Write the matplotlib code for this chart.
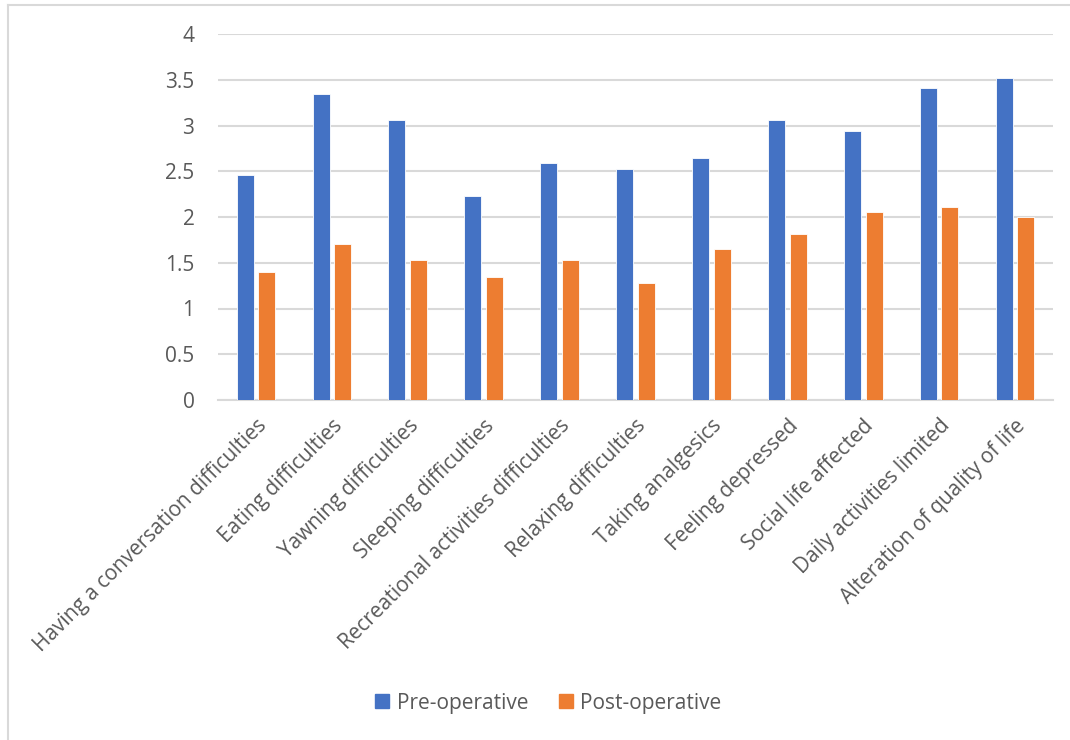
import numpy as np
import matplotlib
matplotlib.use("Agg")
import matplotlib.pyplot as plt
from matplotlib.lines import Line2D

plt.rcParams['font.family'] = ['Open Sans', 'DejaVu Sans']

# Mean scores before / after surgery
categories = [
    "Having a conversation difficulties",
    "Eating difficulties",
    "Yawning difficulties",
    "Sleeping difficulties",
    "Recreational activities difficulties",
    "Relaxing difficulties",
    "Taking analgesics",
    "Feeling depressed",
    "Social life affected",
    "Daily activities limited",
    "Alteration of quality of life",
]
pre_operative = [2.46, 3.34, 3.06, 2.23, 2.59, 2.52, 2.64, 3.06, 2.94, 3.41, 3.52]
post_operative = [1.40, 1.70, 1.53, 1.34, 1.53, 1.28, 1.65, 1.81, 2.05, 2.11, 2.00]
y_ticks = [0, 0.5, 1, 1.5, 2, 2.5, 3, 3.5, 4]

blue = "#4472C4"
orange = "#ED7D31"
grey_text = "#595959"
grid_col = "#D9D9D9"

fig = plt.figure(figsize=(10.7, 7.4), dpi=100)
ax = fig.add_axes([218 / 1070, 1 - 400 / 740, (1053 - 218) / 1070, (400 - 34) / 740])

x = np.arange(len(categories))
bar_w = 0.224
offset = 0.143
ax.bar(x - offset, pre_operative, width=bar_w, color=blue, edgecolor="white", linewidth=0.6,
       label="Pre-operative", zorder=3)
ax.bar(x + offset, post_operative, width=bar_w, color=orange, edgecolor="white", linewidth=0.6,
       label="Post-operative", zorder=3)

ax.set_xlim(-0.5, len(categories) - 0.5)
ax.set_ylim(0, 4)
ax.set_yticks(y_ticks)
ax.set_yticklabels([f"{t:g}" for t in y_ticks])
ax.set_xticks(x)
ax.set_xticklabels(categories, rotation=45, ha="right", rotation_mode="anchor")

ax.grid(axis="y", color=grid_col, linewidth=1.5, zorder=0)
ax.set_axisbelow(True)
for side in ["top", "right", "left"]:
    ax.spines[side].set_visible(False)
ax.spines["bottom"].set_color(grid_col)
ax.spines["bottom"].set_linewidth(1.5)
ax.tick_params(axis="both", length=0, labelcolor=grey_text)
ax.tick_params(axis="y", pad=17, labelsize=15)
ax.tick_params(axis="x", pad=11, labelsize=15)

handles = [
    Line2D([], [], marker="s", linestyle="none", markersize=10, color=blue),
    Line2D([], [], marker="s", linestyle="none", markersize=10, color=orange),
]
fig.legend(handles, ["Pre-operative", "Post-operative"], loc="center",
           bbox_to_anchor=(548 / 1070, 1 - 703 / 740), ncol=2, frameon=False,
           fontsize=15, labelcolor=grey_text, handlelength=0.7, handletextpad=0.35,
           columnspacing=1.45)

# chart area border (only top and left visible in the reference crop)
fig.add_artist(Line2D([8 / 1070, 8 / 1070], [0, 1 - 5 / 740], transform=fig.transFigure,
                      color=grid_col, linewidth=1.5))
fig.add_artist(Line2D([8 / 1070, 1], [1 - 5 / 740, 1 - 5 / 740], transform=fig.transFigure,
                      color=grid_col, linewidth=1.5))

fig.savefig("out.png", dpi=100, facecolor="white")
